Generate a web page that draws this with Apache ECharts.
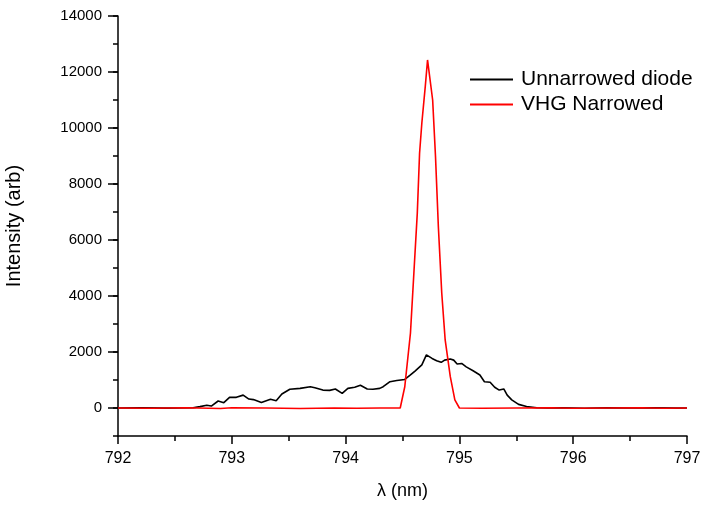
<!DOCTYPE html>
<html>
<head>
<meta charset="utf-8">
<script src="https://cdn.jsdelivr.net/npm/echarts@6/dist/echarts.min.js"></script>
<style>
html,body{margin:0;padding:0;background:#fff;}
#c{width:701px;height:507px;}
</style>
</head>
<body>
<div id="c"></div>
<script>
// Axis settings
var xMin = 792, xMax = 797;
var yMin = -1000, yMax = 14000;
var yMajorTicks = [0, 2000, 4000, 6000, 8000, 10000, 12000, 14000];

// Unnarrowed diode spectrum: [wavelength nm, intensity]
var unnarrowed = [
  [792.00, 0], [792.20, 5], [792.40, -5], [792.52, 0], [792.66, 10], [792.72, 50],
  [792.78, 100], [792.82, 70], [792.88, 250], [792.93, 190], [792.98, 380],
  [793.04, 380], [793.10, 460], [793.15, 320], [793.19, 300], [793.26, 200],
  [793.34, 310], [793.39, 260], [793.44, 500], [793.51, 670], [793.60, 700],
  [793.69, 760], [793.73, 725], [793.80, 640], [793.86, 630], [793.91, 680],
  [793.97, 520], [794.02, 700], [794.08, 740], [794.13, 810], [794.19, 680],
  [794.24, 670], [794.30, 700], [794.33, 760], [794.39, 940], [794.45, 980],
  [794.52, 1020], [794.57, 1180], [794.61, 1320], [794.67, 1540], [794.71, 1900],
  [794.76, 1770], [794.80, 1690], [794.84, 1630], [794.87, 1710], [794.92, 1750],
  [794.95, 1710], [794.98, 1570], [795.02, 1590], [795.06, 1470], [795.12, 1330],
  [795.18, 1180], [795.22, 940], [795.27, 920], [795.31, 740], [795.35, 640],
  [795.39, 680], [795.42, 460], [795.46, 290], [795.52, 130], [795.59, 50],
  [795.68, 10], [795.77, 0], [795.90, 10], [796.10, -10], [796.30, 10],
  [796.50, 0], [796.70, 10], [796.90, -5], [797.00, 0]
];

// VHG narrowed spectrum: [wavelength nm, intensity]
var vhgNarrowed = [
  [792.00, 0], [792.30, -10], [792.60, 10], [792.90, -20], [793.00, 10],
  [793.30, 0], [793.60, -20], [793.90, 0], [794.10, -10], [794.30, 0],
  [794.48, 0], [794.52, 760], [794.57, 2680], [794.60, 4820], [794.63, 6960],
  [794.65, 9100], [794.67, 10180], [794.70, 11480], [794.72, 12430],
  [794.765, 11000], [794.79, 8980], [794.815, 6480], [794.845, 4100],
  [794.875, 2430], [794.92, 1120], [794.96, 290], [795.00, 0], [795.20, -10],
  [795.50, 0], [795.80, 10], [796.00, -10], [796.30, 0], [796.60, 10],
  [796.80, -10], [797.00, 0]
];

var FONT = 'Liberation Sans, Arial, sans-serif';
var chart = echarts.init(document.getElementById('c'), null, {renderer: 'canvas'});

chart.setOption({
  backgroundColor: '#fff',
  animation: false,
  grid: {left: 118, right: 14, top: 16, bottom: 71, containLabel: false, outerBoundsMode: 'none'},
  legend: {
    orient: 'vertical',
    left: 465,
    top: 64,
    icon: 'rect',
    itemWidth: 43,
    itemHeight: 2,
    itemGap: 4,
    textStyle: {fontFamily: FONT, fontSize: 21, color: '#000', padding: [0, 0, 0, 3]},
    data: ['Unnarrowed diode', 'VHG Narrowed']
  },
  xAxis: {
    type: 'value',
    min: xMin, max: xMax, interval: 1,
    name: 'λ (nm)',
    nameLocation: 'middle',
    nameGap: 46,
    nameTextStyle: {fontFamily: FONT, fontSize: 18, color: '#000'},
    axisLine: {onZero: false, lineStyle: {color: '#000', width: 1.5}},
    axisTick: {show: true, length: 8, inside: false, lineStyle: {color: '#000', width: 1.5}},
    minorTick: {show: true, splitNumber: 2, length: 5, lineStyle: {color: '#000', width: 1.5}},
    axisLabel: {fontFamily: FONT, fontSize: 16, color: '#000', margin: 15},
    splitLine: {show: false}
  },
  yAxis: {
    type: 'value',
    min: yMin, max: yMax, interval: 1000,
    name: 'Intensity (arb)',
    nameLocation: 'middle',
    nameGap: 94,
    nameTextStyle: {fontFamily: FONT, fontSize: 20, color: '#000'},
    axisLine: {show: true, lineStyle: {color: '#000', width: 1.5}},
    axisTick: {show: true, length: 5, lineStyle: {color: '#000', width: 1.5}},
    axisLabel: {
      fontFamily: FONT, fontSize: 15, color: '#000', margin: 16,
      formatter: function (v) { return (v % 2000 === 0) ? String(v) : ''; }
    },
    splitLine: {show: false}
  },
  series: [
    {
      name: 'Unnarrowed diode',
      type: 'line',
      data: unnarrowed,
      symbol: 'none',
      showSymbol: false,
      lineStyle: {color: '#000', width: 1.6},
      itemStyle: {color: '#000'},
      z: 2
    },
    {
      name: 'VHG Narrowed',
      type: 'line',
      data: vhgNarrowed,
      symbol: 'none',
      showSymbol: false,
      lineStyle: {color: '#ff0000', width: 1.6},
      itemStyle: {color: '#ff0000'},
      z: 3
    },
    {
      name: 'majorTicks',
      type: 'custom',
      clip: false,
      silent: true,
      data: yMajorTicks.map(function (v) { return [xMin, v]; }),
      renderItem: function (params, api) {
        var p = api.coord([api.value(0), api.value(1)]);
        return {
          type: 'line',
          shape: {x1: p[0] - 10, y1: p[1], x2: p[0], y2: p[1]},
          style: {stroke: '#000', lineWidth: 1.5}
        };
      },
      z: 5
    }
  ]
});
</script>
</body>
</html>
